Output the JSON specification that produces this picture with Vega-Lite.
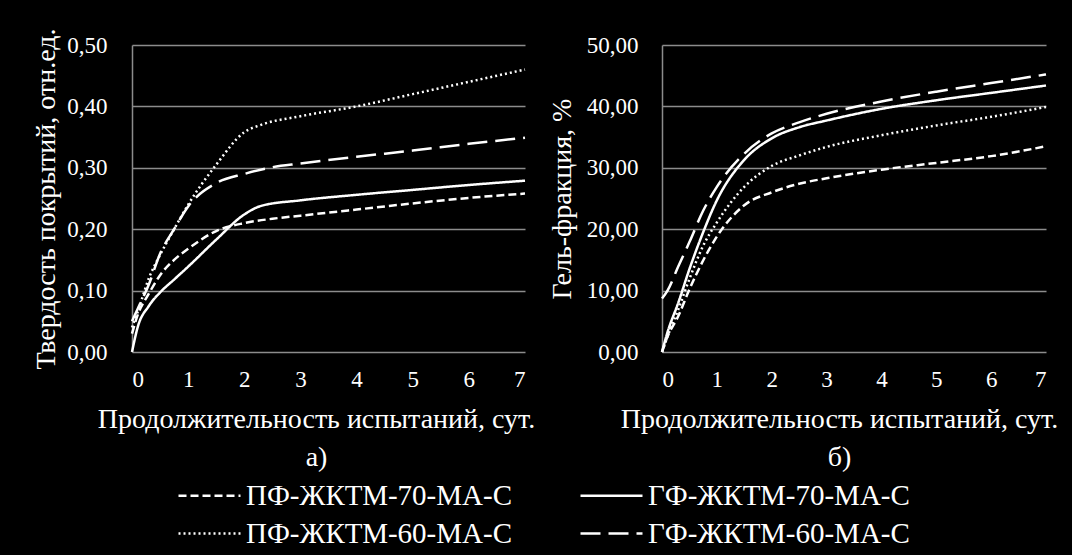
{
  "$schema": "https://vega.github.io/schema/vega-lite/v6.json",
  "background": "black",
  "padding": {"left": 32, "top": 28, "right": 24, "bottom": 6},
  "datasets": {
    "hard": [
      {"series": "ПФ-ЖКТМ-70-МА-С", "day": 0, "value": 0.03},
      {"series": "ПФ-ЖКТМ-70-МА-С", "day": 0.1, "value": 0.06},
      {"series": "ПФ-ЖКТМ-70-МА-С", "day": 0.3, "value": 0.095},
      {"series": "ПФ-ЖКТМ-70-МА-С", "day": 0.5, "value": 0.125},
      {"series": "ПФ-ЖКТМ-70-МА-С", "day": 0.75, "value": 0.15},
      {"series": "ПФ-ЖКТМ-70-МА-С", "day": 1, "value": 0.168},
      {"series": "ПФ-ЖКТМ-70-МА-С", "day": 1.5, "value": 0.197},
      {"series": "ПФ-ЖКТМ-70-МА-С", "day": 2, "value": 0.21},
      {"series": "ПФ-ЖКТМ-70-МА-С", "day": 2.5, "value": 0.217},
      {"series": "ПФ-ЖКТМ-70-МА-С", "day": 3, "value": 0.222},
      {"series": "ПФ-ЖКТМ-70-МА-С", "day": 4, "value": 0.232},
      {"series": "ПФ-ЖКТМ-70-МА-С", "day": 5, "value": 0.242},
      {"series": "ПФ-ЖКТМ-70-МА-С", "day": 6, "value": 0.251},
      {"series": "ПФ-ЖКТМ-70-МА-С", "day": 7, "value": 0.258},
      {"series": "ГФ-ЖКТМ-70-МА-С", "day": 0, "value": 0},
      {"series": "ГФ-ЖКТМ-70-МА-С", "day": 0.1, "value": 0.04},
      {"series": "ГФ-ЖКТМ-70-МА-С", "day": 0.3, "value": 0.075},
      {"series": "ГФ-ЖКТМ-70-МА-С", "day": 0.5, "value": 0.097},
      {"series": "ГФ-ЖКТМ-70-МА-С", "day": 0.75, "value": 0.118},
      {"series": "ГФ-ЖКТМ-70-МА-С", "day": 1, "value": 0.139},
      {"series": "ГФ-ЖКТМ-70-МА-С", "day": 1.5, "value": 0.183},
      {"series": "ГФ-ЖКТМ-70-МА-С", "day": 2, "value": 0.224},
      {"series": "ГФ-ЖКТМ-70-МА-С", "day": 2.3, "value": 0.238},
      {"series": "ГФ-ЖКТМ-70-МА-С", "day": 3, "value": 0.247},
      {"series": "ГФ-ЖКТМ-70-МА-С", "day": 4, "value": 0.256},
      {"series": "ГФ-ЖКТМ-70-МА-С", "day": 5, "value": 0.264},
      {"series": "ГФ-ЖКТМ-70-МА-С", "day": 6, "value": 0.272},
      {"series": "ГФ-ЖКТМ-70-МА-С", "day": 7, "value": 0.279},
      {"series": "ПФ-ЖКТМ-60-МА-С", "day": 0, "value": 0.04},
      {"series": "ПФ-ЖКТМ-60-МА-С", "day": 0.1, "value": 0.065},
      {"series": "ПФ-ЖКТМ-60-МА-С", "day": 0.3, "value": 0.12},
      {"series": "ПФ-ЖКТМ-60-МА-С", "day": 0.5, "value": 0.158},
      {"series": "ПФ-ЖКТМ-60-МА-С", "day": 0.75, "value": 0.2},
      {"series": "ПФ-ЖКТМ-60-МА-С", "day": 1, "value": 0.24},
      {"series": "ПФ-ЖКТМ-60-МА-С", "day": 1.5, "value": 0.305},
      {"series": "ПФ-ЖКТМ-60-МА-С", "day": 2, "value": 0.358},
      {"series": "ПФ-ЖКТМ-60-МА-С", "day": 2.3, "value": 0.37},
      {"series": "ПФ-ЖКТМ-60-МА-С", "day": 3, "value": 0.384},
      {"series": "ПФ-ЖКТМ-60-МА-С", "day": 4, "value": 0.4},
      {"series": "ПФ-ЖКТМ-60-МА-С", "day": 5, "value": 0.42},
      {"series": "ПФ-ЖКТМ-60-МА-С", "day": 6, "value": 0.44},
      {"series": "ПФ-ЖКТМ-60-МА-С", "day": 7, "value": 0.46},
      {"series": "ГФ-ЖКТМ-60-МА-С", "day": 0, "value": 0.05},
      {"series": "ГФ-ЖКТМ-60-МА-С", "day": 0.1, "value": 0.07},
      {"series": "ГФ-ЖКТМ-60-МА-С", "day": 0.3, "value": 0.11},
      {"series": "ГФ-ЖКТМ-60-МА-С", "day": 0.5, "value": 0.16},
      {"series": "ГФ-ЖКТМ-60-МА-С", "day": 0.75, "value": 0.2},
      {"series": "ГФ-ЖКТМ-60-МА-С", "day": 1, "value": 0.237},
      {"series": "ГФ-ЖКТМ-60-МА-С", "day": 1.5, "value": 0.275},
      {"series": "ГФ-ЖКТМ-60-МА-С", "day": 2, "value": 0.29},
      {"series": "ГФ-ЖКТМ-60-МА-С", "day": 2.5, "value": 0.301},
      {"series": "ГФ-ЖКТМ-60-МА-С", "day": 3, "value": 0.307},
      {"series": "ГФ-ЖКТМ-60-МА-С", "day": 4, "value": 0.318},
      {"series": "ГФ-ЖКТМ-60-МА-С", "day": 5, "value": 0.328},
      {"series": "ГФ-ЖКТМ-60-МА-С", "day": 6, "value": 0.339},
      {"series": "ГФ-ЖКТМ-60-МА-С", "day": 7, "value": 0.349}
    ],
    "gel": [
      {"series": "ПФ-ЖКТМ-70-МА-С", "day": 0, "value": 0},
      {"series": "ПФ-ЖКТМ-70-МА-С", "day": 0.1, "value": 2.5},
      {"series": "ПФ-ЖКТМ-70-МА-С", "day": 0.3, "value": 5.9},
      {"series": "ПФ-ЖКТМ-70-МА-С", "day": 0.5, "value": 10.2},
      {"series": "ПФ-ЖКТМ-70-МА-С", "day": 0.75, "value": 14.9},
      {"series": "ПФ-ЖКТМ-70-МА-С", "day": 1, "value": 18.8},
      {"series": "ПФ-ЖКТМ-70-МА-С", "day": 1.5, "value": 23.9},
      {"series": "ПФ-ЖКТМ-70-МА-С", "day": 2, "value": 26.0},
      {"series": "ПФ-ЖКТМ-70-МА-С", "day": 2.5, "value": 27.4},
      {"series": "ПФ-ЖКТМ-70-МА-С", "day": 3, "value": 28.3},
      {"series": "ПФ-ЖКТМ-70-МА-С", "day": 4, "value": 29.7},
      {"series": "ПФ-ЖКТМ-70-МА-С", "day": 5, "value": 30.8},
      {"series": "ПФ-ЖКТМ-70-МА-С", "day": 6, "value": 31.9},
      {"series": "ПФ-ЖКТМ-70-МА-С", "day": 7, "value": 33.5},
      {"series": "ГФ-ЖКТМ-70-МА-С", "day": 0, "value": 0},
      {"series": "ГФ-ЖКТМ-70-МА-С", "day": 0.1, "value": 3.2},
      {"series": "ГФ-ЖКТМ-70-МА-С", "day": 0.3, "value": 8.1},
      {"series": "ГФ-ЖКТМ-70-МА-С", "day": 0.5, "value": 13.5},
      {"series": "ГФ-ЖКТМ-70-МА-С", "day": 0.75, "value": 19.5},
      {"series": "ГФ-ЖКТМ-70-МА-С", "day": 1, "value": 24.7},
      {"series": "ГФ-ЖКТМ-70-МА-С", "day": 1.5, "value": 31.3},
      {"series": "ГФ-ЖКТМ-70-МА-С", "day": 2, "value": 34.8},
      {"series": "ГФ-ЖКТМ-70-МА-С", "day": 2.5, "value": 36.6},
      {"series": "ГФ-ЖКТМ-70-МА-С", "day": 3, "value": 37.7},
      {"series": "ГФ-ЖКТМ-70-МА-С", "day": 4, "value": 39.6},
      {"series": "ГФ-ЖКТМ-70-МА-С", "day": 5, "value": 41.0},
      {"series": "ГФ-ЖКТМ-70-МА-С", "day": 6, "value": 42.2},
      {"series": "ГФ-ЖКТМ-70-МА-С", "day": 7, "value": 43.4},
      {"series": "ПФ-ЖКТМ-60-МА-С", "day": 0, "value": 0},
      {"series": "ПФ-ЖКТМ-60-МА-С", "day": 0.1, "value": 2.5},
      {"series": "ПФ-ЖКТМ-60-МА-С", "day": 0.3, "value": 7.0},
      {"series": "ПФ-ЖКТМ-60-МА-С", "day": 0.5, "value": 11.9},
      {"series": "ПФ-ЖКТМ-60-МА-С", "day": 0.75, "value": 17.3},
      {"series": "ПФ-ЖКТМ-60-МА-С", "day": 1, "value": 21.1},
      {"series": "ПФ-ЖКТМ-60-МА-С", "day": 1.5, "value": 26.9},
      {"series": "ПФ-ЖКТМ-60-МА-С", "day": 2, "value": 30.3},
      {"series": "ПФ-ЖКТМ-60-МА-С", "day": 2.5, "value": 32.0},
      {"series": "ПФ-ЖКТМ-60-МА-С", "day": 3, "value": 33.4},
      {"series": "ПФ-ЖКТМ-60-МА-С", "day": 4, "value": 35.3},
      {"series": "ПФ-ЖКТМ-60-МА-С", "day": 5, "value": 36.9},
      {"series": "ПФ-ЖКТМ-60-МА-С", "day": 6, "value": 38.3},
      {"series": "ПФ-ЖКТМ-60-МА-С", "day": 7, "value": 39.9},
      {"series": "ГФ-ЖКТМ-60-МА-С", "day": 0, "value": 8.7},
      {"series": "ГФ-ЖКТМ-60-МА-С", "day": 0.1, "value": 10.0},
      {"series": "ГФ-ЖКТМ-60-МА-С", "day": 0.3, "value": 14.0},
      {"series": "ГФ-ЖКТМ-60-МА-С", "day": 0.5, "value": 17.9},
      {"series": "ГФ-ЖКТМ-60-МА-С", "day": 0.75, "value": 23.0},
      {"series": "ГФ-ЖКТМ-60-МА-С", "day": 1, "value": 26.9},
      {"series": "ГФ-ЖКТМ-60-МА-С", "day": 1.5, "value": 32.3},
      {"series": "ГФ-ЖКТМ-60-МА-С", "day": 2, "value": 35.6},
      {"series": "ГФ-ЖКТМ-60-МА-С", "day": 2.5, "value": 37.4},
      {"series": "ГФ-ЖКТМ-60-МА-С", "day": 3, "value": 38.8},
      {"series": "ГФ-ЖКТМ-60-МА-С", "day": 4, "value": 40.8},
      {"series": "ГФ-ЖКТМ-60-МА-С", "day": 5, "value": 42.4},
      {"series": "ГФ-ЖКТМ-60-МА-С", "day": 6, "value": 43.8},
      {"series": "ГФ-ЖКТМ-60-МА-С", "day": 7, "value": 45.2}
    ]
  },
  "config": {
    "font": "Liberation Serif",
    "view": {"stroke": null},
    "axis": {
      "labelColor": "white",
      "titleColor": "white",
      "labelFont": "Liberation Serif",
      "titleFont": "Liberation Serif",
      "labelFontSize": 23,
      "titleFontSize": 28,
      "titleFontWeight": "normal",
      "domainColor": "#8c8c8c",
      "gridColor": "#8c8c8c",
      "domainWidth": 1.5,
      "gridWidth": 1.5,
      "ticks": false,
      "tickSize": 0
    }
  },
  "spacing": 13,
  "hconcat": [
    {
      "width": 393,
      "height": 307,
      "data": {"name": "hard"},
      "mark": {"type": "line", "color": "white", "strokeWidth": 2.5, "interpolate": "monotone"},
      "encoding": {
        "x": {
          "field": "day", "type": "quantitative",
          "scale": {"domain": [0, 7], "nice": false},
          "axis": {"values": [0, 1, 2, 3, 4, 5, 6, 7], "grid": false, "domain": false, "labelPadding": 16,
                   "title": ["Продолжительность испытаний, сут.", "а)"], "titleLineHeight": 38, "titlePadding": 14, "titleX": 184}
        },
        "y": {
          "field": "value", "type": "quantitative",
          "scale": {"domain": [0, 0.5], "nice": false},
          "axis": {"values": [0, 0.1, 0.2, 0.3, 0.4, 0.5], "labelExpr": "replace(format(datum.value, '.2f'), '.', ',')",
                   "labelPadding": 25, "title": "Твердость покрытий, отн.ед.", "titlePadding": 6}
        },
        "strokeDash": {
          "field": "series", "type": "nominal",
          "scale": {"domain": ["ПФ-ЖКТМ-70-МА-С", "ПФ-ЖКТМ-60-МА-С", "ГФ-ЖКТМ-70-МА-С", "ГФ-ЖКТМ-60-МА-С"],
                    "range": [[8, 4], [2, 3], [1, 0], [20, 8]]},
          "legend": {
            "orient": "none", "legendX": 42, "legendY": 436, "columns": 2, "title": null,
            "symbolType": "M-3,0H3", "symbolSize": 427, "symbolStrokeColor": "white", "symbolStrokeWidth": 2.5,
            "symbolOffset": 21, "labelOffset": 22,
            "labelFont": "Liberation Serif", "labelFontSize": 29, "labelColor": "white", "labelLimit": 500,
            "columnPadding": 63, "rowPadding": 8
          }
        }
      }
    },
    {
      "width": 384,
      "height": 307,
      "data": {"name": "gel"},
      "mark": {"type": "line", "color": "white", "strokeWidth": 2.5, "interpolate": "monotone"},
      "encoding": {
        "x": {
          "field": "day", "type": "quantitative",
          "scale": {"domain": [0, 7], "nice": false},
          "axis": {"values": [0, 1, 2, 3, 4, 5, 6, 7], "grid": false, "domain": false, "labelPadding": 16,
                   "title": ["Продолжительность испытаний, сут.", "б)"], "titleLineHeight": 38, "titlePadding": 14, "titleX": 177}
        },
        "y": {
          "field": "value", "type": "quantitative",
          "scale": {"domain": [0, 50], "nice": false},
          "axis": {"values": [0, 10, 20, 30, 40, 50], "labelExpr": "replace(format(datum.value, '.2f'), '.', ',')",
                   "labelPadding": 24, "title": "Гель-фракция, %", "titlePadding": 10}
        },
        "strokeDash": {
          "field": "series", "type": "nominal",
          "scale": {"domain": ["ПФ-ЖКТМ-70-МА-С", "ПФ-ЖКТМ-60-МА-С", "ГФ-ЖКТМ-70-МА-С", "ГФ-ЖКТМ-60-МА-С"],
                    "range": [[8, 4], [2, 3], [1, 0], [20, 8]]}
        }
      }
    }
  ]
}
